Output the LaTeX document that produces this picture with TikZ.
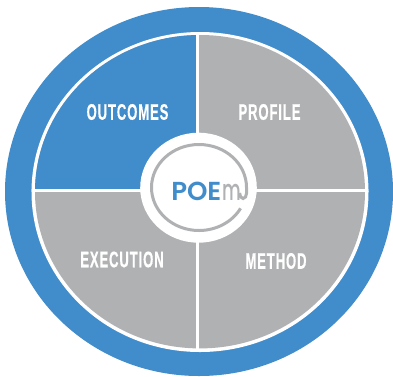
\documentclass[tikz,border=0pt]{standalone}
\usepackage{fontspec}
\newfontfamily\labelfont[FakeStretch=0.58,LetterSpace=4,FakeBold=0.5]{Liberation Sans Bold}
\newfontfamily\poemfont{Poppins SemiBold}
\newfontfamily\mfont[FakeStretch=0.62]{Poppins Medium}
\definecolor{poemblue}{HTML}{418CCB}
\definecolor{poemgray}{HTML}{B0B1B3}
\tikzset{
  quadlabel/.style={text=white,inner sep=0pt,font=\labelfont\fontsize{22.5}{22.5}\selectfont},
}
\begin{document}
\begin{tikzpicture}[x=1pt,y=-1pt]
\useasboundingbox (0,0) rectangle (393,376);
\fill[poemblue] (199,191.5) ellipse [x radius=194,y radius=184.5];
\fill[white] (200,192) ellipse [x radius=168.5,y radius=160];
\fill[poemgray] (200,191.7) ellipse [x radius=165,y radius=156.7];
\begin{scope}
\clip (0,0) rectangle (197.5,190);
\fill[poemblue] (200,191.7) ellipse [x radius=165,y radius=156.7];
\end{scope}
\begin{scope}
\clip (200,192) ellipse [x radius=168.5,y radius=160];
\fill[white] (196,30) rectangle (199,354);
\fill[white] (30,189) rectangle (370,192);
\end{scope}
\fill[white] (198.5,187.7) ellipse [x radius=58.3,y radius=55];
\draw[poemgray,line width=3pt] (239.6,193) arc [start angle=180,end angle=0,x radius=3.5,y radius=5.5] -- (246.5,187.5) arc [start angle=0,end angle=-331,x radius=47.5,y radius=43];
\node[quadlabel] (outcomes) at (127.5,112) {OUTCOMES};
\node[quadlabel] (profile) at (269.5,112) {PROFILE};
\node[quadlabel] (execution) at (122,259.5) {EXECUTION};
\node[quadlabel] (method) at (276,261) {METHOD};
\node[text=poemblue,inner sep=0pt,anchor=base east,font=\poemfont\fontsize{26}{26}\selectfont] (poe) at (221.5,200) {POE};
\node[text=poemgray,inner sep=0pt,anchor=base west,font=\mfont\fontsize{29}{29}\selectfont] (m) at (222,200) {m};
\end{tikzpicture}
\end{document}
